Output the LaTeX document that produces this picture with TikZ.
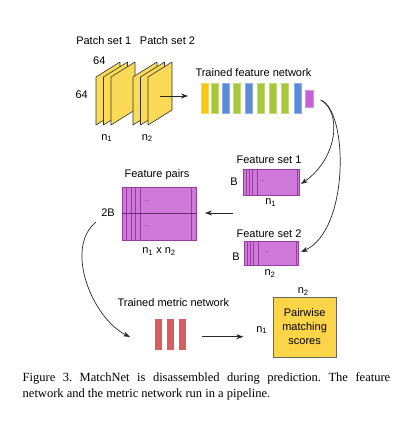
\documentclass[tikz,border=0pt]{standalone}
\usepackage{fontspec}
\setmainfont{Liberation Serif}
\setsansfont{Liberation Sans}
\usetikzlibrary{arrows.meta}

\definecolor{sheetyellow}{RGB}{251,218,88}
\definecolor{baryellow}{RGB}{250,198,20}
\definecolor{bargreen}{RGB}{168,200,60}
\definecolor{barblue}{RGB}{92,140,214}
\definecolor{barpurple}{RGB}{196,96,216}
\definecolor{featpurple}{RGB}{207,122,218}
\definecolor{featline}{RGB}{150,60,160}
\definecolor{barred}{RGB}{214,94,94}
\definecolor{scoreyellow}{RGB}{252,212,72}
\definecolor{arrowgray}{RGB}{40,40,40}

\frenchspacing

\begin{document}
\begin{tikzpicture}[x=1pt, y=-1pt,
  lbl/.style={font=\sffamily\fontsize{11}{14}\selectfont, inner sep=0pt},
  sheet/.style={draw=black!80, fill=sheetyellow, line width=0.6pt, line join=round},
  fbox/.style={draw=featline, fill=featpurple, line width=0.8pt},
  fline/.style={draw=featline, line width=0.6pt},
  dots/.style={font=\sffamily\fontsize{6}{6}\selectfont, text=featline!50!black, inner sep=0pt},
  arr/.style={draw=arrowgray, line width=0.7pt, -{Stealth[length=7pt,width=5pt]}},
  bar/.style={line width=0.5pt}]

  \useasboundingbox (0,0) rectangle (403,422);

  % ---------- Patch sets ----------

  % Shapes
  \draw[sheet] (96,125) -- (96,77) -- (120,62) -- (120,110) -- cycle;
  \draw[sheet] (103.5,125) -- (103.5,77) -- (127.5,62) -- (127.5,110) -- cycle;
  \draw[sheet] (111,125) -- (111,77) -- (135,62) -- (135,110) -- cycle;
  \draw[sheet] (133,125) -- (133,77) -- (157,62) -- (157,110) -- cycle;
  \draw[sheet] (140.5,125) -- (140.5,77) -- (164.5,62) -- (164.5,110) -- cycle;
  \draw[sheet] (148,125) -- (148,77) -- (172,62) -- (172,110) -- cycle;

  % Labels
  \node[lbl] at (103.8, 40.7) (PS1) {Patch set 1};
  \node[lbl] at (167.5, 40.7) (PS2) {Patch set 2};
  \node[lbl] at (99.3, 60.7) (W64) {64};
  \node[lbl] at (81.7, 95) (H64) {64};
  \node[lbl] at (106.7, 138) (PN1) {n\textsubscript{1}};
  \node[lbl] at (147.3, 138) (PN2) {n\textsubscript{2}};

  % ---------- Feature network ----------

  % Shapes
  \fill[bar, baryellow, draw=baryellow!70!white] (201,83) rectangle (208.3,113);
  \fill[bar, bargreen, draw=bargreen!70!white] (211,83) rectangle (218.3,113);
  \fill[bar, barblue, draw=barblue!70!white] (222.3,83) rectangle (229.6,113);
  \fill[bar, bargreen, draw=bargreen!70!white] (233.3,83) rectangle (240.6,113);
  \fill[bar, barblue, draw=barblue!70!white] (245,83) rectangle (252.3,113);
  \fill[bar, bargreen, draw=bargreen!70!white] (257,83) rectangle (264.3,113);
  \fill[bar, bargreen, draw=bargreen!70!white] (269,83) rectangle (276.3,113);
  \fill[bar, bargreen, draw=bargreen!70!white] (281.3,83) rectangle (288.6,113);
  \fill[bar, barblue, draw=barblue!70!white] (294.3,83) rectangle (301.6,113);
  \fill[bar, barpurple, draw=barpurple!70!white] (305.7,90) rectangle (313.3,107);

  % Labels
  \node[lbl] at (253.4, 72.7) (FN) {Trained feature network};

  % ---------- Feature sets ----------

  % Shapes
  \draw[fbox] (243.3,169.3) rectangle (299,195);
  \draw[fline] (246,169.3) -- (246,195) (249,169.3) -- (249,195)
    (252.3,169.3) -- (252.3,195) (257.3,169.3) -- (257.3,195) (297.3,169.3) -- (297.3,195);
  \draw[fbox] (244,241.7) rectangle (298.3,265);
  \draw[fline] (247,241.7) -- (247,265) (250,241.7) -- (250,265)
    (253.3,241.7) -- (253.3,265) (258.3,241.7) -- (258.3,265) (296.3,241.7) -- (296.3,265);

  % Labels
  \node[lbl] at (269, 160) (FS1) {Feature set 1};
  \node[dots] at (262, 181) (D1) {...};
  \node[lbl] at (234, 182) (B1) {B};
  \node[lbl] at (270.7, 202.7) (FN1) {n\textsubscript{1}};
  \node[lbl] at (269, 233.3) (FS2) {Feature set 2};
  \node[dots] at (267, 252) (D2) {...};
  \node[lbl] at (236, 256.7) (B2) {B};
  \node[lbl] at (270, 273.3) (FN2) {n\textsubscript{2}};

  % ---------- Feature pairs ----------

  % Shapes
  \draw[fbox] (122.3,187.7) rectangle (196,240);
  \draw[fline] (126.7,187.7) -- (126.7,240) (131.7,187.7) -- (131.7,240)
    (135.7,187.7) -- (135.7,240) (140,187.7) -- (140,240) (191,187.7) -- (191,240);
  \draw[featline!70!black, line width=1.4pt] (122.3,213.7) -- (196,213.7);

  % Labels
  \node[lbl] at (157, 175) (FP) {Feature pairs};
  \node[dots] at (147, 201) (D3) {...};
  \node[dots] at (147, 226.5) (D4) {...};
  \node[lbl] at (108, 213) (B3) {2B};
  \node[lbl] at (159, 251.7) (PN) {n\textsubscript{1} x n\textsubscript{2}};

  % ---------- Metric network and scores ----------

  % Shapes
  \fill[barred] (155,319.3) rectangle (162.3,350);
  \fill[barred] (166.7,319.3) rectangle (174,350);
  \fill[barred] (179,319.3) rectangle (186.3,350);
  \draw[fill=scoreyellow, draw=black!60, line width=0.8pt] (273.3,297.7) rectangle (336,357.3);

  % Labels
  \node[lbl] at (173.3, 302.3) (MN) {Trained metric network};
  \node[lbl, align=center] at (304.6, 327) (PMS) {Pairwise\\matching\\scores};
  \node[lbl] at (261.7, 330) (SN1) {n\textsubscript{1}};
  \node[lbl] at (303.3, 291.7) (SN2) {n\textsubscript{2}};

  % ---------- Arrows ----------
  \coordinate (PatchOut) at (160,96);
  \coordinate (NetIn) at (188,96);
  \coordinate (NetOut) at (320.7,100);
  \coordinate (Set1In) at (301,184);
  \coordinate (Set2In) at (301,252);
  \coordinate (Set1Out) at (233,213);
  \coordinate (PairIn) at (205,213);
  \coordinate (PairOut) at (96,222);
  \coordinate (MetricIn) at (130,337);
  \coordinate (MetricOut) at (201.7,336.7);
  \coordinate (ScoreIn) at (243.3,336.7);

  \draw[arr] (PatchOut) -- (NetIn);
  \draw[arr] (NetOut) .. controls (342,112) and (338,158) .. (Set1In);
  \draw[arr] (NetOut) .. controls (348,110) and (350,230) .. (Set2In);
  \draw[arr] (Set1Out) -- (PairIn);
  \draw[arr] (PairOut) .. controls (64,248) and (92,318) .. (MetricIn);
  \draw[arr] (MetricOut) -- (ScoreIn);

  % ---------- Caption ----------
  \node[anchor=north west, inner sep=0pt, text width=367.5pt, align=justify,
    font=\fontsize{12.5}{16.5}\selectfont] at (22.5, 372) (CAP)
    {Figure 3. MatchNet is disassembled during prediction. The feature\linebreak
     network and the metric network run in a pipeline.};
\end{tikzpicture}
\end{document}
